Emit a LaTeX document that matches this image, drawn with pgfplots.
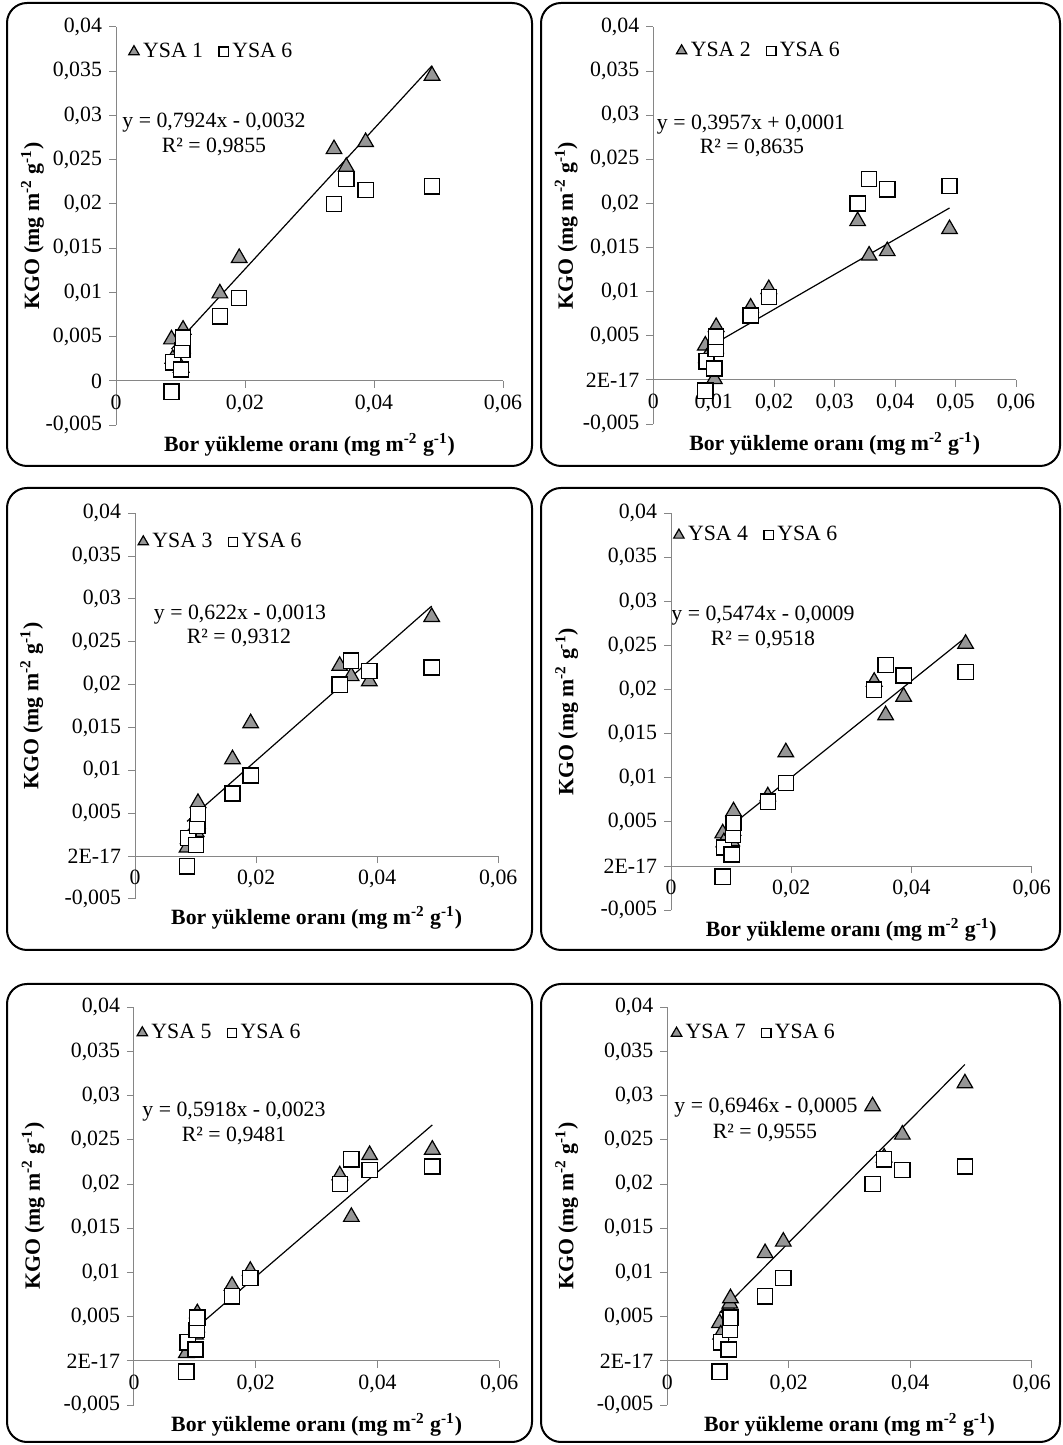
\documentclass[border=0pt]{standalone}
\usepackage{fontspec}
\setmainfont{Liberation Serif}
\usepackage{pgfplots}
\pgfplotsset{compat=1.18}
\definecolor{axgray}{RGB}{134,134,134}
\definecolor{trifill}{RGB}{150,150,150}
\newcommand{\fs}{\fontsize{10.9}{13}\selectfont}
\pgfplotsset{
 panel/.style={
  scale only axis,
  xmin=0, xmax=0.06, ymin=-0.005, ymax=0.04,
  scaled ticks=false,
  axis x line=middle, axis y line=left,
  axis line style={draw=axgray, line width=0.5pt, -},
  hide obscured x ticks=false, hide obscured y ticks=false,
  tick style={draw=axgray, line width=0.5pt},
  tick align=outside, major tick length=3.5pt,
  ytick={-0.005,0,0.005,0.01,0.015,0.02,0.025,0.03,0.035,0.04},
  ticklabel style={font=\fs, text=black},
  label style={font=\bfseries\fs},
  xlabel={Bor yükleme oranı (mg m\textsuperscript{-2} g\textsuperscript{-1})},
  ylabel={KGO (mg m\textsuperscript{-2} g\textsuperscript{-1})},
  xlabel style={at={(axis description cs:0.5,-0.05)}, anchor=center},
  legend style={draw=none, fill=none, inner sep=0pt, font=\fs, legend columns=2, anchor=west,
     /tikz/every even column/.append style={column sep=6pt}},
  clip=false,
 },
 tri/.style={only marks, mark=triangle*, mark size=4.5pt,
   mark options={fill=trifill, draw=black, line width=0.6pt},
   legend image code/.code={\draw[##1, mark size=3pt] plot coordinates {(0pt,0pt)};}},
 sq/.style={only marks, mark=square*, mark size=3.8pt,
   mark options={fill=white, draw=black, line width=0.65pt},
   legend image code/.code={\draw[##1, mark size=2.3pt] plot coordinates {(0pt,0pt)};}},
 trend/.style={black, line width=0.6pt, no marks, forget plot},
 ylfull/.style={yticklabels={{-0,005},{0},{0,005},{0,01},{0,015},{0,02},{0,025},{0,03},{0,035},{0,04}}},
 ylE/.style={yticklabels={{-0,005},{2E-17},{0,005},{0,01},{0,015},{0,02},{0,025},{0,03},{0,035},{0,04}}},
 xl2/.style={xtick={0,0.02,0.04,0.06}, xticklabels={{0},{0,02},{0,04},{0,06}}},
 xl1/.style={xtick={0,0.01,0.02,0.03,0.04,0.05,0.06}, xticklabels={{0},{0,01},{0,02},{0,03},{0,04},{0,05},{0,06}}},
}
\begin{document}
\begin{tikzpicture}
\useasboundingbox (0,0) rectangle (531pt,722.5pt);
\begin{scope}[x=0.5pt, y=-0.5pt, yshift=722.5pt]
\foreach \a/\b/\c/\d in {7/3/532/466, 541/3/1060/466, 7/488/532/950, 541/488/1060/950, 7/984/532/1442, 541/984/1060/1442}
  \draw[line width=1pt, rounded corners=10pt] (\a,\b) rectangle (\c,\d);
\node[font=\fs] at (214,122.7) {y = 0,7924x - 0,0032};
\node[font=\fs] at (214,146.7) {R² = 0,9855};
\node[font=\fs] at (751,125) {y = 0,3957x + 0,0001};
\node[font=\fs] at (752,148) {R² = 0,8635};
\node[font=\fs] at (240,614.3) {y = 0,622x - 0,0013};
\node[font=\fs] at (239,637.7) {R² = 0,9312};
\node[font=\fs] at (763,616) {y = 0,5474x - 0,0009};
\node[font=\fs] at (763,640) {R² = 0,9518};
\node[font=\fs] at (234,1111.7) {y = 0,5918x - 0,0023};
\node[font=\fs] at (234,1136) {R² = 0,9481};
\node[font=\fs] at (766,1108) {y = 0,6946x - 0,0005};
\node[font=\fs] at (765,1133) {R² = 0,9555};
\end{scope}

% Panel 1
\begin{axis}[panel, xl2, ylfull, at={(58pt,509.875pt)}, anchor=south west, width=193.5pt, height=199.125pt,
  ylabel style={at={(axis description cs:-0.216,0.5)}, anchor=center},
  legend style={at={(0.032,0.938)}}]
\addplot[tri] coordinates {(0.0086,0.0047) (0.0088,0.0025) (0.0101,0.0015) (0.0103,0.0037) (0.0104,0.0058) (0.0161,0.0099) (0.0191,0.0139) (0.0338,0.0262) (0.0357,0.0242) (0.0387,0.0270) (0.0490,0.0345)};
\addlegendentry{YSA 1}
\addplot[sq] coordinates {(0.0086,-0.0012) (0.0088,0.0021) (0.0101,0.0013) (0.0103,0.0035) (0.0104,0.0049) (0.0161,0.0073) (0.0191,0.0094) (0.0338,0.0200) (0.0357,0.0228) (0.0387,0.0216) (0.0490,0.0220)};
\addlegendentry{YSA 6}
\addplot[trend] coordinates {(0.0086,0.003615) (0.0490,0.035628)};
\end{axis}

% Panel 2
\begin{axis}[panel, xl1, ylE, at={(326.65pt,510.45pt)}, anchor=south west, width=181.35pt, height=198.55pt,
  ylabel style={at={(axis description cs:-0.24,0.5)}, anchor=center},
  legend style={at={(0.0626,0.940)}}]
\addplot[tri] coordinates {(0.0086,0.0039) (0.0088,0.0025) (0.0101,0.0001) (0.0103,0.0036) (0.0104,0.0060) (0.0161,0.0082) (0.0191,0.0103) (0.0338,0.0180) (0.0357,0.0141) (0.0387,0.0146) (0.0490,0.0171)};
\addlegendentry{YSA 2}
\addplot[sq] coordinates {(0.0086,-0.0012) (0.0088,0.0021) (0.0101,0.0013) (0.0103,0.0035) (0.0104,0.0049) (0.0161,0.0073) (0.0191,0.0094) (0.0338,0.0200) (0.0357,0.0228) (0.0387,0.0216) (0.0490,0.0220)};
\addlegendentry{YSA 6}
\addplot[trend] coordinates {(0.0086,0.003503) (0.0490,0.019489)};
\end{axis}

% Panel 3
\begin{axis}[panel, xl2, ylE, at={(67.5pt,273.05pt)}, anchor=south west, width=181.65pt, height=192.8pt,
  ylabel style={at={(axis description cs:-0.284,0.5)}, anchor=center},
  legend style={at={(0.0074,0.926)}}]
\addplot[tri] coordinates {(0.0086,0.0010) (0.0088,0.0020) (0.0101,0.0028) (0.0103,0.0038) (0.0104,0.0062) (0.0161,0.0113) (0.0191,0.0155) (0.0338,0.0222) (0.0357,0.0210) (0.0387,0.0204) (0.0490,0.0279)};
\addlegendentry{YSA 3}
\addplot[sq] coordinates {(0.0086,-0.0012) (0.0088,0.0021) (0.0101,0.0013) (0.0103,0.0035) (0.0104,0.0049) (0.0161,0.0073) (0.0191,0.0094) (0.0338,0.0200) (0.0357,0.0228) (0.0387,0.0216) (0.0490,0.0220)};
\addlegendentry{YSA 6}
\addplot[trend] coordinates {(0.0086,0.004049) (0.0490,0.029178)};
\end{axis}

% Panel 4
\begin{axis}[panel, xl2, ylE, at={(335.5pt,267.45pt)}, anchor=south west, width=180.35pt, height=198.4pt,
  ylabel style={at={(axis description cs:-0.289,0.5)}, anchor=center},
  legend style={at={(0.0064,0.945)}}]
\addplot[tri] coordinates {(0.0086,0.0037) (0.0088,0.0027) (0.0101,0.0028) (0.0103,0.0040) (0.0104,0.0062) (0.0161,0.0079) (0.0191,0.0129) (0.0338,0.0209) (0.0357,0.0171) (0.0387,0.0192) (0.0490,0.0252)};
\addlegendentry{YSA 4}
\addplot[sq] coordinates {(0.0086,-0.0012) (0.0088,0.0021) (0.0101,0.0013) (0.0103,0.0035) (0.0104,0.0049) (0.0161,0.0073) (0.0191,0.0094) (0.0338,0.0200) (0.0357,0.0228) (0.0387,0.0216) (0.0490,0.0220)};
\addlegendentry{YSA 6}
\addplot[trend] coordinates {(0.0086,0.003808) (0.0490,0.025923)};
\end{axis}

% Panel 5
\begin{axis}[panel, xl2, ylE, at={(67pt,19.9pt)}, anchor=south west, width=182.65pt, height=198.95pt,
  ylabel style={at={(axis description cs:-0.276,0.5)}, anchor=center},
  legend style={at={(0.0074,0.936)}}]
\addplot[tri] coordinates {(0.0086,0.0009) (0.0088,0.0018) (0.0101,0.0030) (0.0103,0.0038) (0.0104,0.0054) (0.0161,0.0085) (0.0191,0.0102) (0.0338,0.0210) (0.0357,0.0163) (0.0387,0.0233) (0.0490,0.0239)};
\addlegendentry{YSA 5}
\addplot[sq] coordinates {(0.0086,-0.0012) (0.0088,0.0021) (0.0101,0.0013) (0.0103,0.0035) (0.0104,0.0049) (0.0161,0.0073) (0.0191,0.0094) (0.0338,0.0200) (0.0357,0.0228) (0.0387,0.0216) (0.0490,0.0220)};
\addlegendentry{YSA 6}
\addplot[trend] coordinates {(0.0086,0.002789) (0.0490,0.026698)};
\end{axis}

% Panel 6
\begin{axis}[panel, xl2, ylE, at={(333.65pt,19.9pt)}, anchor=south west, width=182.2pt, height=198.95pt,
  ylabel style={at={(axis description cs:-0.276,0.5)}, anchor=center},
  legend style={at={(0.010,0.935)}}]
\addplot[tri] coordinates {(0.0086,0.0043) (0.0088,0.0030) (0.0101,0.0060) (0.0103,0.0065) (0.0104,0.0071) (0.0161,0.0122) (0.0191,0.0135) (0.0338,0.0288) (0.0357,0.0230) (0.0387,0.0256) (0.0490,0.0314)};
\addlegendentry{YSA 7}
\addplot[sq] coordinates {(0.0086,-0.0012) (0.0088,0.0021) (0.0101,0.0013) (0.0103,0.0035) (0.0104,0.0049) (0.0161,0.0073) (0.0191,0.0094) (0.0338,0.0200) (0.0357,0.0228) (0.0387,0.0216) (0.0490,0.0220)};
\addlegendentry{YSA 6}
\addplot[trend] coordinates {(0.0086,0.005474) (0.0490,0.033535)};
\end{axis}
\end{tikzpicture}
\end{document}
